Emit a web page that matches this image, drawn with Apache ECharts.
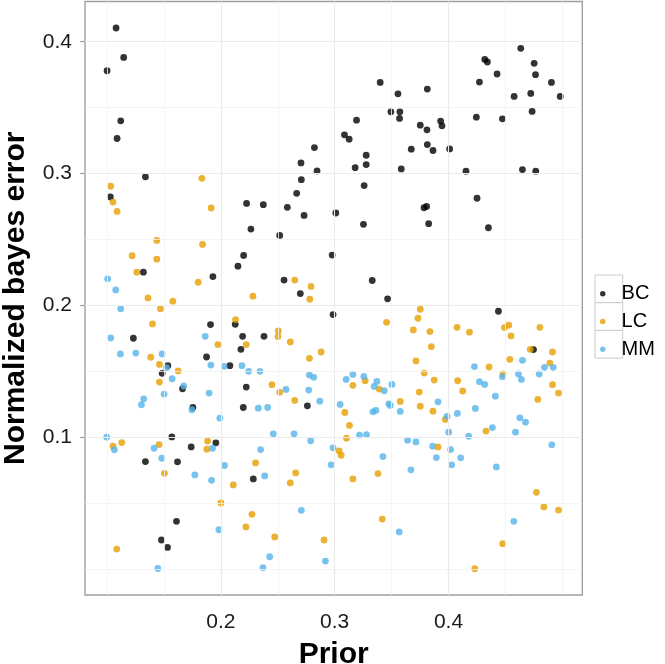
<!DOCTYPE html>
<html>
<head>
<meta charset="utf-8">
<script src="https://cdn.jsdelivr.net/npm/echarts@6/dist/echarts.min.js"></script>
<style>
html,body{margin:0;padding:0;background:#fff;}
#chart{width:665px;height:664px;}
</style>
</head>
<body>
<div id="chart"></div>
<script>
// ---- data: [prior, normalized bayes error] ----
const seriesNames = ['BC', 'LC', 'MM'];

const bcPoints = [
  [0.1079,0.4104],[0.1146,0.3881],[0.1000,0.3780],[0.1120,0.3400],[0.1088,0.3266],[0.1337,0.2975],
  [0.2822,0.3197],[0.2704,0.3081],[0.2845,0.3020],[0.2707,0.2954],[0.2666,0.2850],[0.1029,0.2823],
  [0.3400,0.3691],[0.3556,0.3605],[0.3814,0.3641],[0.3494,0.3468],[0.3573,0.3468],[0.3570,0.3418],
  [0.3192,0.3405],[0.3086,0.3294],[0.3127,0.3261],[0.3752,0.3367],[0.3811,0.3332],[0.3931,0.3398],
  [0.3943,0.3362],[0.3277,0.3139],[0.3277,0.3068],[0.3180,0.3045],[0.3673,0.3185],[0.3814,0.3220],
  [0.3864,0.3175],[0.4010,0.3187],[0.3585,0.3035],[0.3259,0.2909],[0.4154,0.3018],[0.4251,0.2813],
  [0.4319,0.3866],[0.4342,0.3846],[0.4427,0.3755],[0.4272,0.3694],[0.4245,0.3428],[0.4474,0.3415],
  [0.4635,0.3950],[0.4753,0.3836],[0.4765,0.3750],[0.4905,0.3691],[0.4577,0.3585],[0.4723,0.3608],
  [0.4735,0.3471],[0.4650,0.3030],[0.4767,0.3018],[0.4982,0.3585],
  [0.2226,0.2774],[0.2373,0.2764],[0.2584,0.2744],[0.2731,0.2683],[0.2264,0.2579],[0.2517,0.2531],
  [0.2200,0.2379],[0.2150,0.2298],[0.1930,0.2219],[0.1319,0.2252],[0.2555,0.2192],[0.2698,0.2090],
  [0.1909,0.1855],[0.2126,0.1857],[0.2191,0.1766],[0.2379,0.1766],[0.1231,0.1751],[0.2176,0.1667],
  [0.1874,0.1609],[0.2079,0.1543],[0.1534,0.1543],[0.1484,0.1485],[0.2223,0.1381],[0.1663,0.1368],
  [0.3010,0.2701],[0.3253,0.2615],[0.3785,0.2741],[0.3808,0.2751],[0.3826,0.2620],[0.4351,0.2589],
  [0.2978,0.2382],[0.3330,0.2189],[0.3465,0.2050],[0.2986,0.1931],[0.4439,0.1956],[0.4747,0.1665],
  [0.1754,0.1226],[0.2197,0.1226],[0.2760,0.1239],[0.1569,0.1003],[0.1739,0.0927],[0.1956,0.0958],
  [0.1337,0.0816],[0.1619,0.0814],[0.2285,0.0684],[0.1610,0.0363],[0.1478,0.0221],[0.1531,0.0165]
];

const lcPoints = [
  [0.1032,0.2904],[0.1833,0.2964],
  [0.1052,0.2784],[0.1088,0.2713],[0.1915,0.2739],[0.1437,0.2493],[0.1839,0.2463],[0.1220,0.2377],
  [0.1437,0.2351],[0.1261,0.2252],[0.1801,0.2176],[0.2649,0.2192],[0.2792,0.2144],[0.2781,0.2047],
  [0.2282,0.2070],[0.1360,0.2057],[0.1578,0.2032],[0.1469,0.1974],[0.1399,0.1860],[0.2129,0.1893],
  [0.2505,0.1807],[0.2502,0.1764],[0.2610,0.1723],[0.2223,0.1703],[0.1974,0.1703],[0.1384,0.1607],
  [0.1460,0.1553],[0.1625,0.1503],[0.1460,0.1419],[0.2778,0.1599],[0.2449,0.1399],[0.2517,0.1341],
  [0.2649,0.1280],
  [0.2881,0.1647],[0.3752,0.1971],[0.3732,0.1903],[0.3456,0.1872],[0.3691,0.1814],[0.3837,0.1802],
  [0.3849,0.1688],[0.3714,0.1579],[0.3787,0.1487],[0.3875,0.1434],[0.3743,0.1343],[0.3160,0.1394],
  [0.3268,0.1429],[0.3391,0.1366],[0.3576,0.1272],[0.4075,0.1834],[0.4184,0.1797],[0.4492,0.1832],
  [0.4530,0.1850],[0.4550,0.1769],[0.4803,0.1834],[0.4718,0.1667],[0.4914,0.1647],[0.4891,0.1563],
  [0.4914,0.1399],[0.4539,0.1591],[0.4357,0.1533],[0.4480,0.1480],[0.4081,0.1429],[0.4125,0.1351],
  [0.4785,0.1287],[0.4967,0.1335],[0.4967,0.0448],
  [0.1052,0.0933],[0.1129,0.0960],[0.1457,0.0945],[0.1883,0.0971],[0.1877,0.0910],[0.1504,0.0727],
  [0.2305,0.0806],[0.2109,0.0639],[0.2657,0.0730],[0.2610,0.0654],[0.2000,0.0502],[0.2273,0.0416],
  [0.2220,0.0320],[0.2473,0.0244],[0.1085,0.0152],
  [0.3752,0.1236],[0.3864,0.1198],[0.3972,0.1135],[0.3089,0.1188],[0.3130,0.1090],[0.3104,0.0993],
  [0.3039,0.0897],[0.3057,0.0864],[0.3160,0.0684],[0.3380,0.0725],[0.3908,0.0927],[0.4330,0.1047],
  [0.4773,0.0583],[0.4838,0.0472],[0.3418,0.0380],[0.2907,0.0221],[0.4477,0.0193],[0.4231,0.0003]
];

const mmPoints = [
  [0.1005,0.2202],[0.1076,0.2118],[0.1120,0.1974],[0.1032,0.1753],[0.1117,0.1632],[0.1252,0.1639],
  [0.1484,0.1632],[0.1862,0.1766],[0.1912,0.1548],[0.2029,0.1538],[0.2185,0.1543],[0.2244,0.1500],
  [0.2343,0.1500],[0.1522,0.1528],[0.1572,0.1444],[0.1674,0.1389],[0.2778,0.1472],[0.2816,0.1455],
  [0.2572,0.1363],[0.2772,0.1358],[0.1322,0.1292],[0.1501,0.1328],[0.1897,0.1335],
  [0.3101,0.1439],[0.3160,0.1477],[0.3256,0.1462],[0.3371,0.1424],[0.3347,0.1386],[0.3435,0.1353],
  [0.3503,0.1401],[0.4228,0.1536],[0.4272,0.1422],[0.4318,0.1401],[0.4474,0.1460],[0.4650,0.1584],
  [0.4615,0.1480],[0.4641,0.1439],[0.4797,0.1480],[0.4844,0.1531],[0.4920,0.1531],[0.4412,0.1312],
  [0.1302,0.1247],[0.1745,0.1209],[0.2329,0.1221],[0.2411,0.1226],[0.1991,0.1145],
  [0.0997,0.1001],[0.1064,0.0905],[0.1413,0.0917],[0.1481,0.0841],[0.1927,0.0917],[0.2032,0.0786],
  [0.1771,0.0715],[0.1918,0.0674],[0.2461,0.1026],[0.2643,0.1026],[0.2789,0.0973],[0.2349,0.0907],
  [0.2385,0.0707],[0.2707,0.0446],[0.1983,0.0299],[0.2429,0.0094],[0.2370,0.0011],[0.1446,0.0005],
  [0.2869,0.1274],[0.3048,0.1249],[0.3336,0.1193],[0.3362,0.1204],[0.3476,0.1254],[0.3488,0.1242],
  [0.3576,0.1196],[0.3908,0.1269],[0.3987,0.1158],[0.4078,0.1181],[0.4236,0.1219],[0.4386,0.1074],
  [0.4627,0.1148],[0.4677,0.1115],[0.4589,0.1039],[0.3218,0.1016],[0.3280,0.1021],[0.2986,0.0920],
  [0.2969,0.0791],[0.3641,0.0978],[0.3714,0.0965],[0.3424,0.0854],[0.3670,0.0753],[0.3861,0.0933],
  [0.3893,0.0846],[0.4002,0.1039],[0.4019,0.0907],[0.4028,0.0791],[0.4107,0.0844],[0.4178,0.1008],
  [0.4421,0.0775],[0.4908,0.0943],[0.4574,0.0363],[0.3567,0.0282],[0.2919,0.0061]
];

// ---- axes ----
const xRange = [0.0806, 0.5176];
const yRange = [-0.0196, 0.4305];
const xTicks = [0.2, 0.3, 0.4];
const xTickLabels = ['0.2', '0.3', '0.4'];
const yTicks = [0.1, 0.2, 0.3, 0.4];
const yTickLabels = ['0.1', '0.2', '0.3', '0.4'];
const xMajorGrid = [0.2, 0.3, 0.4];
const xMinorGrid = [0.1, 0.15, 0.25, 0.35, 0.45, 0.5];
const yMajorGrid = [0.1, 0.2, 0.3, 0.4];
const yMinorGrid = [0.0, 0.05, 0.15, 0.25, 0.35];
const xTitle = 'Prior';
const yTitle = 'Normalized bayes error';

const colors = { BC: '#000000', LC: '#E69F00', MM: '#56B4E9' };
const FONT = '"Liberation Sans", Arial, Helvetica, sans-serif';

function labelOf(ticks, labels) {
  return function (v) {
    for (let i = 0; i < ticks.length; i++) {
      if (Math.abs(ticks[i] - v) < 1e-9) return labels[i];
    }
    return '';
  };
}

const gridLines = [];
xMinorGrid.forEach(v => gridLines.push({ xAxis: v, lineStyle: { color: '#F3F3F3', width: 0.8, type: 'solid' } }));
yMinorGrid.forEach(v => gridLines.push({ yAxis: v, lineStyle: { color: '#F3F3F3', width: 0.8, type: 'solid' } }));
xMajorGrid.forEach(v => gridLines.push({ xAxis: v, lineStyle: { color: '#EBEBEB', width: 1.1, type: 'solid' } }));
yMajorGrid.forEach(v => gridLines.push({ yAxis: v, lineStyle: { color: '#EBEBEB', width: 1.1, type: 'solid' } }));

const chart = echarts.init(document.getElementById('chart'), null, { renderer: 'canvas' });

const keyX = 595, keyY = 275, keySize = 27.7;
const keyRects = seriesNames.map((n, i) => ({
  type: 'rect',
  z: 0,
  shape: { x: keyX, y: keyY + i * keySize, width: keySize, height: keySize },
  style: { fill: '#ffffff', stroke: '#CCCCCC', lineWidth: 1 }
}));

const scatterBase = {
  type: 'scatter',
  symbol: 'circle',
  symbolSize: 6.8,
  z: 3,
  emphasis: { disabled: true }
};

chart.setOption({
  animation: false,
  backgroundColor: '#ffffff',
  grid: {
    left: 85, right: 82.7, top: 1.5, bottom: 69,
    containLabel: false,
    outerBoundsMode: 'none',
    show: true, borderColor: '#9E9E9E', borderWidth: 1.4, backgroundColor: 'transparent'
  },
  xAxis: {
    type: 'value',
    min: xRange[0], max: xRange[1],
    axisLine: { show: false },
    splitLine: { show: false },
    axisTick: { show: true, customValues: xTicks, length: 5, lineStyle: { color: '#9E9E9E', width: 1.2 } },
    axisLabel: {
      customValues: xTicks, formatter: labelOf(xTicks, xTickLabels),
      fontFamily: FONT, fontSize: 21, color: '#1a1a1a', margin: 17
    },
    name: xTitle, nameLocation: 'middle', nameGap: 45,
    nameTextStyle: { fontFamily: FONT, fontSize: 30, fontWeight: 'bold', color: '#000' }
  },
  yAxis: {
    type: 'value',
    min: yRange[0], max: yRange[1],
    axisLine: { show: false },
    splitLine: { show: false },
    axisTick: { show: true, customValues: yTicks, length: 5, lineStyle: { color: '#9E9E9E', width: 1.2 } },
    axisLabel: {
      customValues: yTicks, formatter: labelOf(yTicks, yTickLabels),
      fontFamily: FONT, fontSize: 21, color: '#1a1a1a', margin: 13
    },
    name: yTitle, nameLocation: 'middle', nameGap: 54, nameRotate: 90,
    nameTextStyle: { fontFamily: FONT, fontSize: 30, fontWeight: 'bold', color: '#000' }
  },
  legend: {
    data: seriesNames,
    orient: 'vertical',
    left: keyX, top: keyY,
    itemWidth: keySize, itemHeight: 5.5, itemGap: 0,
    selectedMode: false,
    z: 5,
    textStyle: { fontFamily: FONT, fontSize: 20, color: '#000', lineHeight: keySize }
  },
  graphic: keyRects,
  series: [
    {
      type: 'scatter', name: '__grid', data: [], z: 1, silent: true,
      markLine: { silent: true, symbol: 'none', label: { show: false }, animation: false, data: gridLines }
    },
    Object.assign({}, scatterBase, { name: 'BC', data: bcPoints, itemStyle: { color: colors.BC } }),
    Object.assign({}, scatterBase, { name: 'LC', data: lcPoints, itemStyle: { color: colors.LC } }),
    Object.assign({}, scatterBase, { name: 'MM', data: mmPoints, itemStyle: { color: colors.MM } })
  ]
});
</script>
</body>
</html>
